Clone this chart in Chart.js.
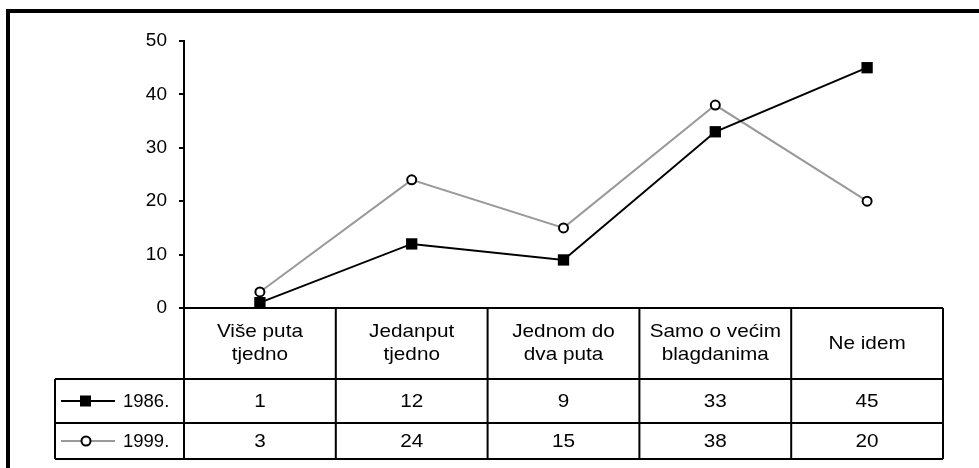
<!DOCTYPE html>
<html>
<head>
<meta charset="utf-8">
<script src="https://cdn.jsdelivr.net/npm/chart.js@4.4.1/dist/chart.umd.min.js"></script>
<style>
  html, body { margin: 0; padding: 0; background: #fff; }
  #wrap { width: 979px; height: 468px; position: relative; }
</style>
</head>
<body>
<div id="wrap"><canvas id="chart" width="979" height="468"></canvas></div>
<script>
// podaci (categories + series)
const categories = [
    ['Više puta', 'tjedno'],
    ['Jedanput', 'tjedno'],
    ['Jednom do', 'dva puta'],
    ['Samo o većim', 'blagdanima'],
    ['Ne idem']
];
const seriesNames = ['1986.', '1999.'];
const values1986 = [1, 12, 9, 33, 45];
const values1999 = [3, 24, 15, 38, 20];
const yTicks = [0, 10, 20, 30, 40, 50];

const FONT = '"Liberation Sans", Arial, sans-serif';
const STRETCH = 1.12; // tekst u tablici je malo razvučen

function stretchedText(ctx, txt, x, y) {
    ctx.save();
    ctx.translate(x, y);
    ctx.scale(STRETCH, 1);
    ctx.fillText(txt, 0, 0);
    ctx.restore();
}

// okvir + tablica ispod grafikona
const tablePlugin = {
    id: 'dataTable',
    beforeDraw(chart) {
        const ctx = chart.ctx;
        ctx.save();
        ctx.fillStyle = '#000';
        ctx.fillRect(6, 9, 4, 459);
        ctx.fillRect(6, 9, 973, 4);
        ctx.restore();
    },
    afterDraw(chart) {
        const ctx = chart.ctx;
        const area = chart.chartArea;
        const x = chart.scales.x;
        const step = x.getPixelForValue(1) - x.getPixelForValue(0);

        const top = area.bottom;
        const headBottom = top + 71;
        const row1Bottom = headBottom + 44;
        const row2Bottom = row1Bottom + 36;
        const legendLeft = 55;

        ctx.save();
        ctx.strokeStyle = '#000';
        ctx.lineWidth = 2;
        ctx.beginPath();
        // horizontalne linije
        ctx.moveTo(area.left, top); ctx.lineTo(area.right, top);
        [headBottom, row1Bottom, row2Bottom].forEach(yy => {
            ctx.moveTo(legendLeft, yy); ctx.lineTo(area.right, yy);
        });
        // vertikalne linije
        for (let i = 0; i <= categories.length; i++) {
            const xx = x.getPixelForValue(0) - step / 2 + i * step;
            ctx.moveTo(xx, top); ctx.lineTo(xx, row2Bottom);
        }
        ctx.moveTo(legendLeft, headBottom); ctx.lineTo(legendLeft, row2Bottom);
        ctx.stroke();

        ctx.fillStyle = '#000';
        ctx.font = '18.5px ' + FONT;
        ctx.textAlign = 'center';
        ctx.textBaseline = 'middle';

        // zaglavlje s kategorijama
        const headMid = (top + headBottom) / 2;
        categories.forEach((lines, i) => {
            const cx = x.getPixelForValue(i);
            const lh = 23;
            lines.forEach((ln, k) => {
                const cy = headMid + (k - (lines.length - 1) / 2) * lh;
                stretchedText(ctx, ln, cx, cy);
            });
        });

        // redovi s vrijednostima + legenda
        const rows = [
            { mid: (headBottom + row1Bottom) / 2, ds: chart.data.datasets[0] },
            { mid: (row1Bottom + row2Bottom) / 2, ds: chart.data.datasets[1] }
        ];
        rows.forEach(r => {
            ctx.textAlign = 'center';
            r.ds.data.forEach((v, i) => {
                stretchedText(ctx, String(v), x.getPixelForValue(i), r.mid + 1);
            });
            // simbol legende
            ctx.strokeStyle = r.ds.borderColor;
            ctx.lineWidth = 2;
            ctx.beginPath();
            ctx.moveTo(61, r.mid); ctx.lineTo(115, r.mid);
            ctx.stroke();
            if (r.ds.pointStyle === 'rect') {
                ctx.fillStyle = '#000';
                ctx.fillRect(80, r.mid - 5.5, 11, 11);
            } else {
                ctx.fillStyle = '#fff';
                ctx.strokeStyle = '#000';
                ctx.beginPath();
                ctx.arc(86, r.mid, 4.5, 0, Math.PI * 2);
                ctx.fill();
                ctx.stroke();
            }
            ctx.fillStyle = '#000';
            ctx.textAlign = 'left';
            ctx.fillText(r.ds.label, 123, r.mid + 1);
        });
        ctx.restore();
    }
};

new Chart(document.getElementById('chart'), {
    type: 'line',
    data: {
        labels: categories,
        datasets: [
            {
                label: seriesNames[0],
                data: values1986,
                borderColor: '#000',
                backgroundColor: '#000',
                borderWidth: 2,
                pointStyle: 'rect',
                pointRadius: 8,
                pointBorderWidth: 0,
                pointBackgroundColor: '#000',
                tension: 0
            },
            {
                label: seriesNames[1],
                data: values1999,
                borderColor: '#999',
                backgroundColor: '#fff',
                borderWidth: 2,
                pointStyle: 'circle',
                pointRadius: 4.5,
                pointBorderWidth: 2,
                pointBorderColor: '#000',
                pointBackgroundColor: '#fff',
                tension: 0
            }
        ]
    },
    options: {
        responsive: false,
        animation: false,
        layout: { padding: { left: 10, right: 36, top: 41, bottom: 160 } },
        plugins: {
            legend: { display: false },
            tooltip: { enabled: false }
        },
        scales: {
            x: {
                display: false,
                offset: true
            },
            y: {
                min: yTicks[0],
                max: yTicks[yTicks.length - 1],
                afterFit: (scale) => { scale.width = 174; },
                afterBuildTicks: (scale) => { scale.ticks = yTicks.map(v => ({ value: v })); },
                border: { display: true, color: '#000', width: 2 },
                grid: {
                    drawOnChartArea: false,
                    drawTicks: true,
                    tickLength: 5,
                    color: '#000',
                    lineWidth: 2
                },
                ticks: {
                    color: '#000',
                    padding: 12,
                    font: { family: FONT, size: 19 }
                }
            }
        }
    },
    plugins: [tablePlugin]
});
</script>
</body>
</html>
